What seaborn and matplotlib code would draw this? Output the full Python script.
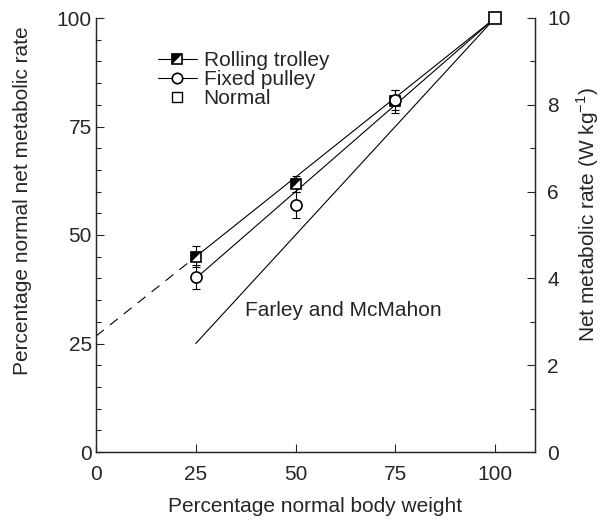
import matplotlib
matplotlib.use("Agg")
import matplotlib.pyplot as plt
import seaborn as sns
import numpy as np
import pandas as pd
from matplotlib.path import Path
from matplotlib.lines import Line2D
from matplotlib.ticker import MultipleLocator

# ---- data ----
weights = [25, 50, 75]
trolley_mean = [45.0, 61.8, 80.8]
trolley_err = [2.4, 1.9, 2.6]
pulley_mean = [40.3, 56.9, 81.0]
pulley_err = [2.7, 3.0, 2.3]
normal_x = [100]
normal_y = [100]

trolley_fit_x = [25, 100]
trolley_fit_y = [45.0, 100.0]
trolley_extrap_x = [0, 25]
trolley_extrap_y = [26.7, 45.0]
pulley_fit_x = [25, 100]
pulley_fit_y = [40.0, 100.0]
farley_x = [25, 100]
farley_y = [25.0, 100.0]

xticks = [0, 25, 50, 75, 100]
yticks_left = [0, 25, 50, 75, 100]
yticks_right = [0, 2, 4, 6, 8, 10]

# ---- style ----
sns.set_theme(style="ticks")
plt.rcParams["font.family"] = ["Liberation Sans", "DejaVu Sans"]
plt.rcParams["axes.linewidth"] = 0.9
FS = 15

fig = plt.figure(figsize=(6.07, 5.24), dpi=100)
ax = fig.add_axes([96/607, 72/524, 439/607, 434/524])

lw = 0.8
sns.lineplot(x=trolley_fit_x, y=trolley_fit_y, ax=ax, color="black", lw=lw)
sns.lineplot(x=pulley_fit_x, y=pulley_fit_y, ax=ax, color="black", lw=lw)
sns.lineplot(x=farley_x, y=farley_y, ax=ax, color="black", lw=lw)
ax.plot(trolley_extrap_x, trolley_extrap_y, color="black", lw=lw, ls=(0, (9, 7)))

# error bars
ax.errorbar(weights, trolley_mean, yerr=trolley_err, fmt="none", ecolor="black",
            elinewidth=lw, capsize=2.6, capthick=lw, zorder=3)
ax.errorbar(weights, pulley_mean, yerr=pulley_err, fmt="none", ecolor="black",
            elinewidth=lw, capsize=2.6, capthick=lw, zorder=3)

# half-filled square marker for rolling trolley
tri = Path([(-1, -1), (-1, 1), (1, 1), (-1, -1)],
           [Path.MOVETO, Path.LINETO, Path.LINETO, Path.CLOSEPOLY])
MS = 7.5
ax.plot(weights, trolley_mean, ls="none", marker="s", ms=MS, mfc="white",
        mec="black", mew=1.2, zorder=4)
ax.plot(weights, trolley_mean, ls="none", marker=tri, ms=MS, mfc="black",
        mec="black", mew=0.3, zorder=5)
ax.plot(weights, pulley_mean, ls="none", marker="o", ms=MS + 0.5, mfc="white",
        mec="black", mew=1.2, zorder=6)
ax.plot(normal_x, normal_y, ls="none", marker="s", ms=MS + 0.5, mfc="white",
        mec="black", mew=1.2, zorder=6, clip_on=False)

ax.text(37.3, 32.5, "Farley and McMahon", fontsize=FS, ha="left", va="center")

ax.set_xlim(0, 110)
ax.set_ylim(0, 100)
ax.set_xticks(xticks)
ax.set_yticks(yticks_left)
ax.yaxis.set_minor_locator(MultipleLocator(5))
ax.tick_params(axis="both", which="both", direction="in", width=0.8, labelsize=FS)
ax.tick_params(axis="both", which="major", length=5.5)
ax.tick_params(axis="y", which="minor", length=3.5)
ax.tick_params(axis="x", pad=9)
ax.tick_params(axis="y", pad=3)
ax.spines["top"].set_visible(False)

ax.set_xlabel("Percentage normal body weight", fontsize=FS, labelpad=10)
ax.set_ylabel("Percentage normal net metabolic rate", fontsize=FS)
ax.yaxis.set_label_coords(-0.146, 0.58)

ax2 = ax.twinx()
ax2.set_ylim(0, 10)
ax2.set_yticks(yticks_right)
ax2.yaxis.set_minor_locator(MultipleLocator(1))
ax2.tick_params(axis="y", which="both", direction="in", width=0.8, labelsize=FS, pad=9)
ax2.tick_params(axis="y", which="major", length=5.5)
ax2.tick_params(axis="y", which="minor", length=3.5)
ax2.spines["top"].set_visible(False)
ax2.set_ylabel("Net metabolic rate (W kg$^{\\mathregular{-1}}$)", fontsize=FS)
ax2.yaxis.set_label_coords(1.09, 0.548)

# legend
h_trolley = (Line2D([], [], color="black", lw=lw, marker="s", ms=MS, mfc="white",
                    mec="black", mew=1.2),
             Line2D([], [], ls="none", marker=tri, ms=MS, mfc="black", mec="black", mew=0.3))
h_pulley = Line2D([], [], color="black", lw=lw, marker="o", ms=MS, mfc="white",
                  mec="black", mew=1.2)
h_normal = Line2D([], [], ls="none", marker="s", ms=MS - 0.5, mfc="white",
                  mec="black", mew=1.0)
ax.legend([h_trolley, h_pulley, h_normal], ["Rolling trolley", "Fixed pulley", "Normal"],
          loc="upper left", bbox_to_anchor=(0.141, 0.923), frameon=False,
          fontsize=FS, handlelength=1.87, handletextpad=0.33, labelspacing=0.0,
          borderpad=0, borderaxespad=0)

fig.savefig("out.png", dpi=100)
